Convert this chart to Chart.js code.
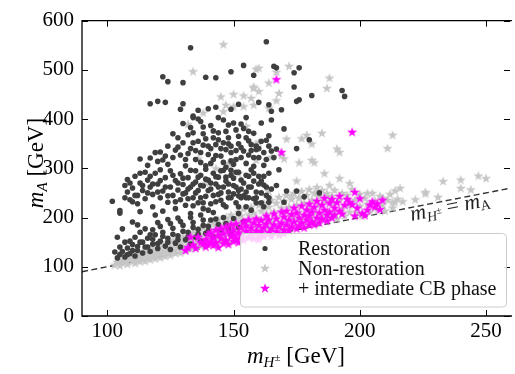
<!DOCTYPE html>
<html>
<head>
<meta charset="utf-8">
<script src="https://cdn.jsdelivr.net/npm/chart.js@4.4.0/dist/chart.umd.min.js"></script>
<style>
html, body { margin: 0; padding: 0; background: #fff; }
canvas { display: block; }
</style>
</head>
<body>
<canvas id="massChart" width="515" height="374"></canvas>
<script>
// points: [m_H+-, m_A] in GeV
var restoration = [
  [133,545],[163,557],[122,486],[124,476],[130,474],[139,485],[149,496],[154,509],[158,489],[166,507],
  [167,504],[176,504],[174,494],[174,465],[181,448],[193,458],[194,446],[175,436],[176,439],[160,434],
  [164,429],[165,416],[165,398],[169,419],[117,431],[120,436],[123,434],[130,431],[129,420],[136,418],
  [140,421],[143,484],[134,406],[130,391],[134,403],[143,424],[170,380],[164,366],[180,358],[175,340],
  [149,420],[152,430],[155,403],[153,390],[144,403],[141,387],[136,400],
  [113,319],[117,321],[120,314],[122,317],[124,345],[126,370],[123,325],[127,337],[129,327],[130,352],
  [132,368],[133,340],[134,372],[135,318],[136,355],[137,332],[138,384],[139,305],[140,345],[142,362],
  [143,326],[145,340],[146,312],[147,375],[148,350],[149,332],[150,392],[151,318],[152,365],[153,342],
  [154,381],[155,310],[156,356],[157,336],[158,371],[159,345],[160,322],[161,392],[162,306],[163,357],
  [165,335],[167,339],[159,338],[131,305],[128,362],[119,332],[116,306],[133,383],[138,370],[144,358],
  [149,315],[141,310],[147,302],[156,327],
  [121,333],[124,308],[126,322],[128,343],[131,318],[132,330],[134,352],[135,336],[137,312],[138,347],
  [139,360],[140,328],[141,340],[142,318],[143,348],[144,372],[145,325],[146,352],[147,338],[148,362],
  [149,345],[150,308],[151,336],[152,350],[153,322],[154,335],[155,362],[157,348],[158,322],[160,340],
  [162,332],[163,318],[164,345],[161,355],[156,375],[148,388],[142,376],[137,395],[146,398],[151,378],
  [107,265],[108,277],[111,284],[113,290],[117,284],[121,297],[102,233],[105,214],[105,209],[107,240],
  [108,252],[109,236],[110,260],[111,245],[112,228],[113,270],[114,255],[115,238],[116,276],[117,262],
  [118,247],[118,222],[119,290],[120,268],[121,240],[122,254],[122,213],[123,281],[124,231],[125,262],
  [125,295],[126,245],[127,218],[127,275],[128,256],[129,236],[129,289],[130,267],[131,225],[131,250],
  [132,281],[133,208],[133,262],[134,240],[135,295],[135,272],[136,230],[136,255],[137,286],[138,218],
  [138,264],[139,243],[139,298],[140,276],[141,228],[141,258],[142,290],[142,210],[143,268],[144,247],
  [144,282],[145,235],[146,262],[146,296],[147,222],[147,274],[148,252],[149,286],[149,240],[150,265],
  [151,230],[151,292],[152,255],[153,276],[154,244],[155,286],[155,222],[156,262],[157,297],[158,238],
  [158,274],[159,252],[160,284],[161,230],[162,266],[163,245],[164,290],[165,258],[157,215],[152,208],
  [119,205],[113,212],
  [120,252],[121,275],[123,262],[124,244],[126,286],[127,232],[128,270],[130,248],[130,280],[132,238],
  [132,258],[133,296],[134,224],[134,268],[135,250],[136,282],[137,240],[137,265],[138,230],[139,278],
  [140,255],[140,215],[141,270],[142,245],[143,283],[143,232],[144,262],[145,295],[145,250],[146,226],
  [147,282],[148,240],[148,268],[149,296],[150,248],[150,280],[151,262],[152,222],[152,292],[153,240],
  [153,258],[154,270],[155,252],[156,240],[156,284],[157,262],[158,290],[159,230],[160,268],[161,250],
  [162,284],[163,262],[164,240],[118,268],[116,250],[114,265],[112,245],[110,232],[115,292],[109,270],
  [104,118],[105,125],[106,131],[107,120],[108,138],[109,127],[110,145],[111,122],[112,133],[113,150],
  [114,128],[115,140],[116,158],[117,131],[118,146],[119,165],[120,137],[121,152],[122,170],[123,142],
  [124,158],[125,135],[126,178],[127,148],[128,163],[129,140],[130,184],[131,155],[132,170],[133,146],
  [134,190],[135,160],[136,176],[137,152],[138,195],[139,168],[140,182],[142,160],[143,197],[145,175],
  [147,188],[149,168],[150,198],[152,180],[154,192],[106,177],[110,191],[112,185],[115,177],[118,175],
  [120,190],[124,196],[128,199],[104,160],[107,150],
  [108,125],[110,133],[112,141],[114,150],[116,140],[118,156],[120,147],[122,162],[124,150],[126,166],
  [128,155],[130,172],[132,160],[134,180],[136,166],[138,184],[140,172],[141,195],[144,186],[146,200],
  [148,178],[111,160],[113,170],[117,165],[121,182],[125,188],[129,192],[133,200],[137,205],[105,140],
  [109,152],[103,130],
  [166,322],[168,297],[158,304],[161,274],[167,265],[171,254],[175,254],[164,231],[170,231],[159,240],
  [155,240],[152,244],[178,242],[184,250],[162,222]
];

var nonRestoration = [
  [103,104],[104,110],[105,103],[105,116],[106,108],[107,113],[107,121],[108,106],[109,117],[109,124],
  [110,111],[111,120],[111,108],[112,127],[112,115],[113,111],[113,122],[114,130],[114,117],[115,112],
  [115,126],[116,120],[116,133],[117,115],[117,128],[118,122],[118,137],[119,117],[119,130],[120,125],
  [120,140],[121,119],[121,133],[122,128],[122,145],[123,122],[123,137],[124,131],[124,150],[125,124],
  [125,141],[126,134],[126,154],[127,128],[127,146],[128,138],[128,158],[129,129],[129,150],[130,141],
  [130,162],[131,133],[131,154],[132,145],[132,166],[133,137],[133,158],[134,149],[134,170],[135,140],
  [135,162],[136,152],[136,175],[137,143],[137,166],[138,156],[138,180],[139,147],[139,170],[140,160],
  [140,185],[141,150],[141,176],[142,165],[142,190],[143,147],[143,182],[144,158],[144,196],[145,172],
  [145,150],[146,188],[146,162],[147,200],[147,176],[148,152],[148,192],[149,168],[149,206],[150,185],
  [150,158],[151,198],[151,174],[152,212],[152,160],[153,190],[153,204],[154,170],[154,218],[155,184],
  [155,160],[156,206],[156,194],[157,172],[157,222],[158,186],[158,210],[159,166],[159,200],[160,226],
  [160,180],[161,214],[161,168],[162,196],[162,230],[163,182],[163,208],[164,172],[164,222],[165,192],
  [165,236],[166,178],[166,212],[167,200],[167,230],[168,186],[168,242],[169,220],[169,176],[170,208],
  [170,234],[171,194],[171,246],[172,222],[172,182],[173,238],[173,204],[174,186],[174,250],[175,226],
  [175,196],[176,240],[176,212],[177,192],[177,254],[178,230],[178,202],[179,246],[179,186],[180,218],
  [180,258],[181,236],[181,198],[182,250],[182,212],[183,190],[183,262],[184,226],[184,244],[185,204],
  [185,256],[186,196],[186,234],[187,250],[187,214],[188,266],[188,200],[189,228],[189,244],[190,212],
  [190,256],[191,198],[192,236],[193,250],[193,218],[194,204],[195,246],[196,226],[196,212],[197,258],
  [198,236],[199,210],[200,248],[200,224],[201,204],[202,240],[203,228],[204,212],[205,250],[206,234],
  [207,216],[208,244],[209,226],[210,214],[211,236],[212,248],[213,220],[214,232],[215,238],
  [216,260],[214,255],[222,237],[226,249],[231,242],[233,274],[240,277],[240,260],[244,257],[247,285],
  [250,280],[217,233],[226,252],[203,250],[209,240],[213,231],
  [146,552],[134,497],[159,502],[145,446],[150,451],[154,448],[157,443],[147,429],[146,416],[150,426],
  [154,426],[158,429],[138,413],[132,390],[158,466],[155,386],[148,310],[150,313],[159,317],[160,504],
  [172,508],[167,496],[164,474],[188,484],[187,463],[168,453],[167,438],[158,463],[160,457],[164,423],
  [179,368],[177,361],[181,350],[185,372],[191,340],[192,333],[176,312],[181,317],[182,312],[213,368],
  [211,341],[169,327],[170,320],[171,360],[165,323],[159,350],[160,353],[183,250],[173,244],[176,241],
  [187,244],[164,254],[175,275],[186,290],[192,280],[196,270],[152,290],[143,300],[136,320],[139,270]
];

var cbPhase = [
  [131,134],[132,140],[133,161],[134,145],[135,138],[136,161],[137,150],[138,148],[139,156],[139,141],
  [140,166],[140,146],[141,152],[141,170],[142,144],[142,160],[143,175],[143,150],[144,165],[144,140],
  [145,158],[145,178],[146,148],[146,168],[147,182],[147,155],[148,172],[148,146],[149,162],[149,186],
  [150,152],[150,176],[150,166],[151,188],[151,158],[152,170],[152,150],[153,180],[153,162],[154,192],
  [154,155],[155,173],[155,184],[156,160],[156,196],[157,168],[157,180],[158,158],[158,190],[159,174],
  [159,198],[160,164],[160,185],[160,156],[161,195],[161,172],[162,180],[162,162],[163,204],[163,188],
  [164,170],[164,196],[165,178],[165,162],[166,208],[166,186],[167,172],[167,198],[168,182],[168,165],
  [169,212],[169,190],[170,176],[170,202],[170,168],[171,214],[171,186],[172,196],[172,174],[173,207],
  [173,182],[174,220],[174,192],[175,178],[175,210],[176,200],[176,184],[177,224],[177,190],[178,206],
  [178,180],[179,216],[179,196],[180,186],[180,228],[180,204],[181,212],[181,192],[182,222],[182,186],
  [183,200],[183,234],[184,210],[184,190],[185,226],[185,198],[186,216],[186,240],[187,194],[187,206],
  [188,230],[188,212],[189,200],[189,238],[190,220],[190,206],[191,231],[192,214],[192,244],[193,208],
  [194,226],[195,238],[196,231],[197,227],[198,204],[198,252],[199,220],[200,239],[201,209],[202,205],
  [203,216],[204,226],[205,233],[206,222],[207,229],[208,217],[209,236],
  [167,481],[169,333],[197,374]
];

var diagonal = [90, 260];
var xTicks = [100, 150, 200, 250];
var yTicks = [0, 100, 200, 300, 400, 500, 600];

var serif = '"Liberation Serif", "DejaVu Serif", serif';
var darkGrey = '#3f3f3f';
var lightGrey = '#c6c6c6';
var magenta = '#ff00ff';

function toXY(list) {
    return list.map(function(p) { return { x: p[0], y: p[1] }; });
}

// matplotlib-like filled 5 point star
function makeStar(color) {
    var c = document.createElement('canvas');
    c.width = 12; c.height = 12;
    var g = c.getContext('2d');
    g.beginPath();
    for (var i = 0; i < 10; i++) {
        var r = i % 2 ? 2.1 : 5.3;
        var a = -Math.PI / 2 + i * Math.PI / 5;
        g.lineTo(6 + r * Math.cos(a), 6.5 + r * Math.sin(a));
    }
    g.closePath();
    g.fillStyle = color;
    g.fill();
    return c;
}

var greyStar = makeStar(lightGrey);
var pinkStar = makeStar(magenta);

// draws a run of text pieces (for sub/superscripts)
function richText(ctx, parts, x, y, align) {
    var w = 0;
    parts.forEach(function(p) { ctx.font = p.font; w += ctx.measureText(p.t).width; });
    var cx = align === 'center' ? x - w / 2 : x;
    parts.forEach(function(p) {
        ctx.font = p.font;
        ctx.fillText(p.t, cx, y + (p.dy || 0));
        cx += ctx.measureText(p.t).width;
    });
}

var framePlugin = {
    id: 'frame',
    afterDraw: function(chart) {
        var ctx = chart.ctx, a = chart.chartArea;
        var xs = chart.scales.x, ys = chart.scales.y;
        ctx.save();

        // axes frame (right side falls off the picture)
        ctx.strokeStyle = '#000';
        ctx.lineWidth = 1.3;
        ctx.beginPath();
        ctx.moveTo(a.right + 2, a.top);
        ctx.lineTo(a.left, a.top);
        ctx.lineTo(a.left, a.bottom);
        ctx.lineTo(a.right + 2, a.bottom);
        ctx.stroke();

        // inward ticks on all sides
        ctx.lineWidth = 1;
        ctx.beginPath();
        xTicks.forEach(function(v) {
            var px = Math.round(xs.getPixelForValue(v)) + 0.5;
            ctx.moveTo(px, a.bottom); ctx.lineTo(px, a.bottom - 6);
            ctx.moveTo(px, a.top); ctx.lineTo(px, a.top + 6);
        });
        yTicks.forEach(function(v) {
            var py = Math.round(ys.getPixelForValue(v)) + 0.5;
            ctx.moveTo(a.left, py); ctx.lineTo(a.left + 6, py);
            ctx.moveTo(a.right, py); ctx.lineTo(a.right - 6, py);
        });
        ctx.stroke();

        // label along the diagonal
        var ang = Math.atan2(ys.getPixelForValue(250) - ys.getPixelForValue(200),
                             xs.getPixelForValue(250) - xs.getPixelForValue(200));
        ctx.save();
        ctx.translate(xs.getPixelForValue(220.5), ys.getPixelForValue(193));
        ctx.rotate(ang);
        ctx.fillStyle = '#222';
        ctx.textBaseline = 'alphabetic';
        richText(ctx, [
            { t: 'm', font: 'italic 22px ' + serif },
            { t: 'H', font: 'italic 14px ' + serif, dy: 4 },
            { t: '±', font: '10px ' + serif, dy: -2 },
            { t: ' = ', font: '22px ' + serif },
            { t: 'm', font: 'italic 22px ' + serif },
            { t: 'A', font: '14px ' + serif, dy: 3 }
        ], 0, 0, 'left');
        ctx.restore();

        // legend
        var lx = 240.5, ly = 233.5, lw = 266, lh = 73.5;
        ctx.beginPath();
        ctx.roundRect(lx, ly, lw, lh, 4);
        ctx.fillStyle = 'rgba(255,255,255,0.8)';
        ctx.fill();
        ctx.strokeStyle = '#cccccc';
        ctx.lineWidth = 1;
        ctx.stroke();

        var rows = [
            { label: 'Restoration', y: 248.5, kind: 'dot' },
            { label: 'Non-restoration', y: 268.5, kind: greyStar },
            { label: '+ intermediate CB phase', y: 288.5, kind: pinkStar }
        ];
        ctx.textBaseline = 'middle';
        rows.forEach(function(r) {
            if (r.kind === 'dot') {
                ctx.beginPath();
                ctx.arc(265, r.y, 2.6, 0, Math.PI * 2);
                ctx.fillStyle = darkGrey;
                ctx.fill();
            } else {
                ctx.drawImage(r.kind, 265 - 6, r.y - 6.5);
            }
            ctx.fillStyle = '#111';
            ctx.font = '20px ' + serif;
            ctx.fillText(r.label, 298, r.y + 1);
        });

        // axis titles
        ctx.fillStyle = '#000';
        ctx.textBaseline = 'alphabetic';
        richText(ctx, [
            { t: 'm', font: 'italic 23px ' + serif },
            { t: 'H', font: 'italic 15px ' + serif, dy: 4 },
            { t: '±', font: '11px ' + serif, dy: -2 },
            { t: ' [GeV]', font: '23px ' + serif }
        ], 296, 363, 'center');

        ctx.save();
        ctx.translate(43, 163);
        ctx.rotate(-Math.PI / 2);
        richText(ctx, [
            { t: 'm', font: 'italic 23px ' + serif },
            { t: 'A', font: 'italic 15px ' + serif, dy: 4 },
            { t: ' [GeV]', font: '23px ' + serif }
        ], 0, 0, 'center');
        ctx.restore();

        ctx.restore();
    }
};

var ctx = document.getElementById('massChart').getContext('2d');

var massChart = new Chart(ctx, {
    type: 'scatter',
    data: {
        datasets: [
            {
                label: '+ intermediate CB phase',
                data: toXY(cbPhase),
                pointStyle: pinkStar,
                order: 1
            },
            {
                label: 'Restoration',
                data: toXY(restoration),
                pointStyle: 'circle',
                pointRadius: 2.8,
                pointBorderWidth: 0,
                backgroundColor: darkGrey,
                borderColor: darkGrey,
                order: 2
            },
            {
                label: 'Non-restoration',
                data: toXY(nonRestoration),
                pointStyle: greyStar,
                order: 3
            },
            {
                type: 'line',
                label: 'diagonal',
                data: diagonal.map(function(v) { return { x: v, y: v }; }),
                borderColor: '#333',
                borderWidth: 1.4,
                borderDash: [6, 3.5],
                pointRadius: 0,
                fill: false,
                order: 4
            }
        ]
    },
    options: {
        responsive: false,
        animation: false,
        devicePixelRatio: 1,
        layout: { padding: { top: 14, right: 0, left: 0, bottom: 0 } },
        plugins: {
            legend: { display: false },
            tooltip: { enabled: false }
        },
        scales: {
            x: {
                type: 'linear',
                min: 90,
                max: 259.5,
                grid: { display: false, drawTicks: false },
                border: { display: false },
                ticks: { color: '#000', font: { family: serif, size: 21 }, padding: 3 },
                afterBuildTicks: function(s) { s.ticks = xTicks.map(function(v) { return { value: v }; }); },
                afterFit: function(s) { s.height = 58; }
            },
            y: {
                type: 'linear',
                min: 0,
                max: 600,
                grid: { display: false, drawTicks: false },
                border: { display: false },
                ticks: { color: '#000', font: { family: serif, size: 21 }, padding: 8 },
                afterBuildTicks: function(s) { s.ticks = yTicks.map(function(v) { return { value: v }; }); },
                afterFit: function(s) { s.width = 82; }
            }
        }
    },
    plugins: [framePlugin]
});
</script>
</body>
</html>
